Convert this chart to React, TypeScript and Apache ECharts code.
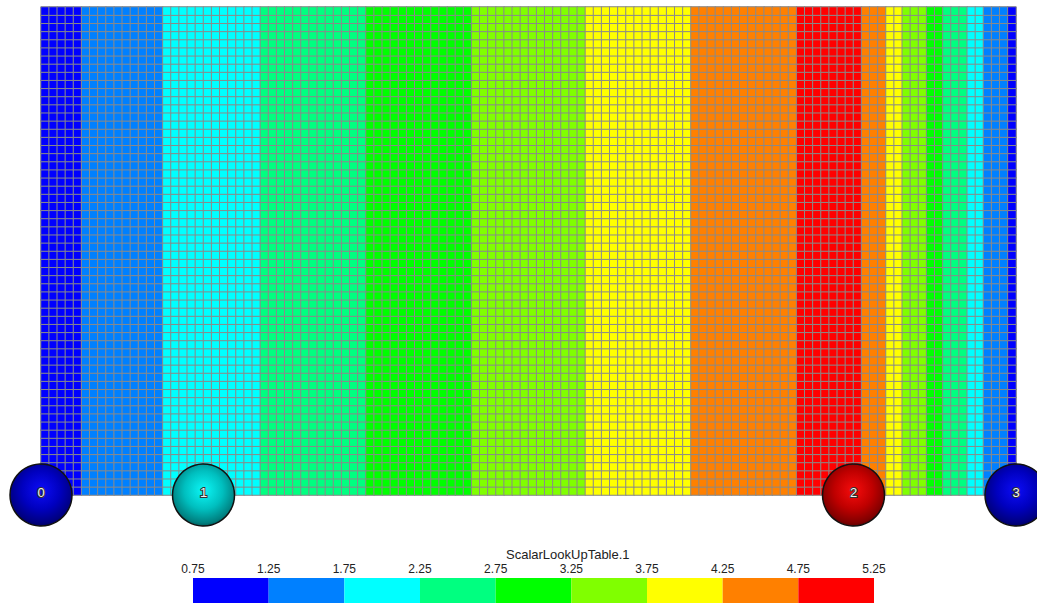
import React, { useEffect, useRef } from "react";
import * as echarts from "echarts";

// Scalar value of each vertical band of cells (left to right) and how many cell columns it spans
const bandValues = [1.0, 1.5, 2.0, 2.5, 3.0, 3.5, 4.0, 4.5, 5.0, 4.5, 4.0, 3.5, 3.0, 2.5, 2.0, 1.5, 1.0];
const bandWidths = [5, 10, 12, 13, 13, 14, 13, 13, 8, 3, 2, 3, 2, 3, 2, 3, 1];
const rowCount = 60;

// Lookup table bins (bounds) and colours
const binBounds = [0.75, 1.25, 1.75, 2.25, 2.75, 3.25, 3.75, 4.25, 4.75, 5.25];
const binColors = ["#0000ff", "#0080ff", "#00ffff", "#00ff80", "#00ff00", "#80ff00", "#ffff00", "#ff8000", "#ff0000"];

// Labelled points (spheres) on the bottom edge of the mesh
const pointLabels = ["0", "1", "2", "3"];
const pointX = [0, 20, 100, 120];
const pointY = [0, 0, 0, 0];
const pointValues = [1, 2, 5, 1];

const legendTitle = "ScalarLookUpTable.1";

function colorFor(v: number): string {
  for (let i = 0; i < binColors.length; i++) {
    if (v >= binBounds[i] && v < binBounds[i + 1]) return binColors[i];
  }
  return binColors[binColors.length - 1];
}

function shade(hex: string, f: number, add = 0): string {
  const n = parseInt(hex.slice(1), 16);
  const r = (n >> 16) & 255, g = (n >> 8) & 255, b = n & 255;
  const c = (x: number) => Math.max(0, Math.min(255, Math.round(x * f + add)));
  return `rgb(${c(r)},${c(g)},${c(b)})`;
}

export default function App() {
  const ref = useRef<HTMLDivElement>(null);

  useEffect(() => {
    if (!ref.current) return;
    const chart = echarts.init(ref.current, undefined, { renderer: "svg" });

    const colValues: number[] = [];
    bandValues.forEach((v, i) => {
      for (let k = 0; k < bandWidths[i]; k++) colValues.push(v);
    });
    const colCount = colValues.length;
    const heatData: number[][] = [];
    for (let y = 0; y < rowCount; y++) {
      for (let x = 0; x < colCount; x++) heatData.push([x, y, colValues[x]]);
    }

    const pieces = binColors.map((c, i) => ({ gte: binBounds[i], lt: binBounds[i + 1], color: c }));
    const legendData = binColors.map((_, i) => [binBounds[i], binBounds[i + 1], i]);

    const sphereData = pointX.map((x, i) => {
      const base = colorFor(pointValues[i]);
      return {
        value: [x, pointY[i]],
        name: pointLabels[i],
        itemStyle: {
          opacity: 1,
          color: new echarts.graphic.RadialGradient(0.5, 0.42, 0.62, [
            { offset: 0, color: shade(base, 0.92, 12) },
            { offset: 0.5, color: shade(base, 0.75) },
            { offset: 0.85, color: shade(base, 0.5) },
            { offset: 1, color: shade(base, 0.28) },
          ]),
        },
      };
    });

    const font = "'Liberation Sans', Arial, sans-serif";

    chart.setOption({
      animation: false,
      textStyle: { fontFamily: font },
      title: {
        text: legendTitle,
        left: 501,
        top: 543,
        textStyle: { fontSize: 13, fontWeight: "normal", color: "#222", fontFamily: font },
      },
      grid: [
        { left: 41, top: 7, width: 975, height: 488, show: true, borderColor: "#c8c8c8", borderWidth: 1, backgroundColor: "transparent" },
        { left: 193, top: 578, width: 681, height: 25 },
      ],
      xAxis: [
        { type: "category", gridIndex: 0, data: colValues.map((_, i) => i), show: false },
        { type: "value", gridIndex: 0, min: 0, max: colCount, show: false },
        {
          type: "value",
          gridIndex: 1,
          min: binBounds[0],
          max: binBounds[binBounds.length - 1],
          interval: 0.5,
          position: "top",
          axisLine: { show: false },
          axisTick: { show: false },
          splitLine: { show: false },
          axisLabel: { formatter: (v: number) => v.toFixed(2), fontSize: 12, color: "#222", margin: 3, fontFamily: font },
        },
      ],
      yAxis: [
        { type: "category", gridIndex: 0, data: Array.from({ length: rowCount }, (_, i) => i), show: false },
        { type: "value", gridIndex: 0, min: 0, max: rowCount, show: false },
        { type: "value", gridIndex: 1, min: 0, max: 1, show: false },
      ],
      visualMap: {
        type: "piecewise",
        show: false,
        seriesIndex: 0,
        dimension: 2,
        pieces,
      },
      series: [
        {
          type: "heatmap",
          xAxisIndex: 0,
          yAxisIndex: 0,
          data: heatData,
          itemStyle: { borderColor: "#8a8a8a", borderWidth: 1 },
          emphasis: { disabled: true },
          silent: true,
        },
        {
          type: "scatter",
          xAxisIndex: 1,
          yAxisIndex: 1,
          clip: false,
          z: 5,
          symbol: "circle",
          symbolSize: 62,
          data: sphereData,
          itemStyle: { opacity: 1, borderColor: "#111", borderWidth: 1.5 },
          label: {
            show: true,
            position: "inside",
            offset: [0, -3],
            formatter: (p: any) => p.name,
            color: "#f2f2f2",
            fontSize: 13,
            textBorderColor: "#333",
            textBorderWidth: 2,
            fontFamily: font,
          },
          silent: true,
        },
        {
          type: "custom",
          xAxisIndex: 2,
          yAxisIndex: 2,
          data: legendData,
          silent: true,
          renderItem: (params: any, api: any) => {
            const lo = api.value(0);
            const hi = api.value(1);
            const idx = api.value(2);
            const p0 = api.coord([lo, 1]);
            const p1 = api.coord([hi, 0]);
            return {
              type: "rect",
              shape: { x: p0[0], y: p0[1], width: p1[0] - p0[0], height: p1[1] - p0[1] },
              style: { fill: binColors[idx] },
            };
          },
        },
      ],
    });

    return () => chart.dispose();
  }, []);

  return (
    <div
      ref={ref}
      style={{ position: "absolute", left: 0, top: 0, width: 1037, height: 603, background: "#fff" }}
    />
  );
}
